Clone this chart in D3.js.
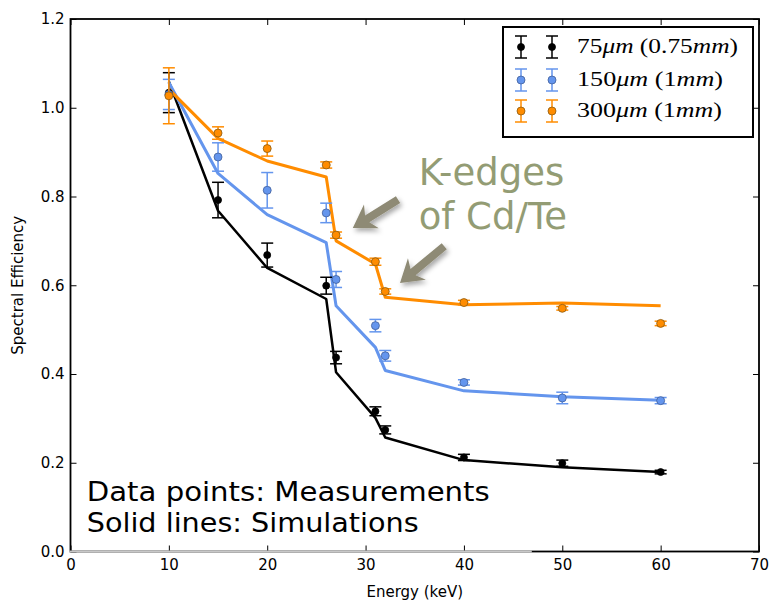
<!DOCTYPE html>
<html>
<head>
<meta charset="utf-8">
<script src="https://cdn.jsdelivr.net/npm/d3@7"></script>
<style>
  body { margin: 0; background: #fff; }
  text { font-family: "DejaVu Sans", sans-serif; }
</style>
</head>
<body>
<div id="viz"></div>
<script>
// energies in keV
var energies = [10, 15, 20, 26, 27, 31, 32, 40, 50, 60];

// measured spectral efficiency (points) and error bars
var meas75  = [1.034, 0.792, 0.668, 0.599, 0.437, 0.316, 0.274, 0.212, 0.199, 0.179];
var err75   = [0.045, 0.040, 0.027, 0.019, 0.014, 0.010, 0.009, 0.007, 0.007, 0.004];
var meas150 = [1.030, 0.889, 0.814, 0.763, 0.613, 0.509, 0.441, 0.381, 0.346, 0.340];
var err150  = [0.034, 0.032, 0.040, 0.022, 0.018, 0.014, 0.012, 0.006, 0.013, 0.007];
var meas300 = [1.027, 0.943, 0.908, 0.871, 0.713, 0.653, 0.586, 0.561, 0.548, 0.514];
var err300  = [0.063, 0.014, 0.017, 0.007, 0.007, 0.008, 0.006, 0.005, 0.004, 0.005];

// simulations (solid lines)
var sim75  = [1.059, 0.768, 0.639, 0.569, 0.404, 0.301, 0.257, 0.206, 0.190, 0.179];
var sim150 = [1.057, 0.852, 0.759, 0.696, 0.554, 0.460, 0.408, 0.362, 0.349, 0.341];
var sim300 = [1.042, 0.931, 0.880, 0.844, 0.700, 0.648, 0.573, 0.556, 0.560, 0.554];

var xTicks = [0, 10, 20, 30, 40, 50, 60, 70];
var yTicks = [0.0, 0.2, 0.4, 0.6, 0.8, 1.0, 1.2];

var legendLabels = [
  [["75", ""], ["μm", "i"], [" (0.75", ""], ["mm", "i"], [")", ""]],
  [["150", ""], ["μm", "i"], [" (1", ""], ["mm", "i"], [")", ""]],
  [["300", ""], ["μm", "i"], [" (1", ""], ["mm", "i"], [")", ""]]
];
var legendWidths = [161, 146, 145];

var width = 773, height = 603;
var margin = {left: 70.5, right: 14, top: 19, bottom: 51.5};

var svg = d3.select("#viz").append("svg")
  .attr("width", width)
  .attr("height", height);

var x = d3.scaleLinear().domain([0, 70]).range([margin.left, width - margin.right]);
var y = d3.scaleLinear().domain([0, 1.2]).range([height - margin.bottom, margin.top]);

var series = [
  {meas: meas75, err: err75, sim: sim75, color: "#000000", edge: "#000000", r: 3.5, lw: 2.5},
  {meas: meas150, err: err150, sim: sim150, color: "#6495ed", edge: "#41609a", r: 4, lw: 3},
  {meas: meas300, err: err300, sim: sim300, color: "#ff8c00", edge: "#8a5a10", r: 4, lw: 3}
];

// axes, ticks pointing inwards on all four sides
svg.append("g")
  .attr("transform", "translate(0," + y(0) + ")")
  .call(d3.axisBottom(x).tickValues(xTicks).tickFormat(d3.format("d")).tickSize(-6).tickPadding(8))
  .call(g => g.select(".domain").remove())
  .call(g => g.selectAll("text").style("font-size", "15px").style("fill", "#000"));

svg.append("g")
  .attr("transform", "translate(0," + y(1.2) + ")")
  .call(d3.axisTop(x).tickValues(xTicks).tickFormat("").tickSize(-6))
  .call(g => g.select(".domain").remove());

svg.append("g")
  .attr("transform", "translate(" + x(0) + ",0)")
  .call(d3.axisLeft(y).tickValues(yTicks).tickFormat(d3.format(".1f")).tickSize(-6).tickPadding(6))
  .call(g => g.select(".domain").remove())
  .call(g => g.selectAll("text").style("font-size", "15px").style("fill", "#000"));

svg.append("g")
  .attr("transform", "translate(" + x(70) + ",0)")
  .call(d3.axisRight(y).tickValues(yTicks).tickFormat("").tickSize(-6))
  .call(g => g.select(".domain").remove());

svg.selectAll(".tick line").attr("stroke", "#000").attr("stroke-width", 1);

// simulation lines
var line = d3.line().x((d, i) => x(energies[i])).y(d => y(d));
series.forEach(s => {
  svg.append("path")
    .attr("d", line(s.sim))
    .attr("fill", "none")
    .attr("stroke", s.color)
    .attr("stroke-width", s.lw)
    .attr("stroke-linejoin", "round");
});

// measurement points with error bars
function errorBar(g, cx, cy, lo, hi, s) {
  g.append("line").attr("x1", cx).attr("x2", cx).attr("y1", lo).attr("y2", hi)
    .attr("stroke", s.color).attr("stroke-width", 1.5);
  [lo, hi].forEach(v => {
    g.append("line").attr("x1", cx - 6).attr("x2", cx + 6).attr("y1", v).attr("y2", v)
      .attr("stroke", s.color).attr("stroke-width", 1.5);
  });
  g.append("circle").attr("cx", cx).attr("cy", cy).attr("r", s.r)
    .attr("fill", s.color).attr("stroke", s.edge).attr("stroke-width", 0.8);
}

series.forEach(s => {
  var g = svg.append("g");
  s.meas.forEach((v, i) => {
    errorBar(g, x(energies[i]), y(v), y(v - s.err[i]), y(v + s.err[i]), s);
  });
});

// frame
svg.append("rect")
  .attr("x", x(0)).attr("y", y(1.2))
  .attr("width", x(70) - x(0)).attr("height", y(0) - y(1.2))
  .attr("fill", "none").attr("stroke", "#000").attr("stroke-width", 1.8);
// faded part of the bottom spine
svg.append("line")
  .attr("x1", x(0) - 1).attr("x2", x(46.9))
  .attr("y1", y(0)).attr("y2", y(0))
  .attr("stroke", "#c8c8c8").attr("stroke-width", 2);

// axis titles
svg.append("text")
  .attr("x", (x(0) + x(70)) / 2).attr("y", 597)
  .attr("text-anchor", "middle").style("font-size", "15px")
  .text("Energy (keV)");
svg.append("text")
  .attr("transform", "translate(23," + (y(0) + y(1.2)) / 2 + ") rotate(-90)")
  .attr("text-anchor", "middle").style("font-size", "15px")
  .text("Spectral Efficiency");

// legend
var lg = svg.append("g");
lg.append("rect")
  .attr("x", 503).attr("y", 27).attr("width", 250).attr("height", 110)
  .attr("fill", "#fff").attr("stroke", "#000").attr("stroke-width", 2);
var rowY = [47, 80, 111];
series.forEach((s, k) => {
  [521, 552].forEach(cx => {
    errorBar(lg, cx, rowY[k], rowY[k] + 11, rowY[k] - 11, s);
  });
  var t = lg.append("text")
    .attr("x", 577).attr("y", rowY[k] + 6)
    .attr("textLength", legendWidths[k])
    .attr("lengthAdjust", "spacingAndGlyphs")
    .style("font-family", "'Liberation Serif', serif")
    .style("font-size", "20px");
  legendLabels[k].forEach(p => {
    t.append("tspan").style("font-style", p[1] === "i" ? "italic" : "normal").text(p[0]);
  });
});

// K-edge annotation
var defs = svg.append("defs");
var f = defs.append("filter").attr("id", "shadow").attr("x", "-50%").attr("y", "-50%").attr("width", "200%").attr("height", "200%");
f.append("feDropShadow").attr("dx", 2).attr("dy", 3).attr("stdDeviation", 2.5)
  .attr("flood-color", "#000").attr("flood-opacity", 0.35);

function arrow(x0, y0, x1, y1) {
  var dx = x1 - x0, dy = y1 - y0, len = Math.hypot(dx, dy);
  var ux = dx / len, uy = dy / len, nx = -uy, ny = ux;
  var hl = 22, hw = 14, sw = 4, notch = 5;
  var bx = x1 - ux * hl, by = y1 - uy * hl;
  var pts = [
    [x0 + nx * sw, y0 + ny * sw],
    [bx + ux * notch + nx * sw, by + uy * notch + ny * sw],
    [bx + nx * hw, by + ny * hw],
    [x1, y1],
    [bx - nx * hw, by - ny * hw],
    [bx + ux * notch - nx * sw, by + uy * notch - ny * sw],
    [x0 - nx * sw, y0 - ny * sw]
  ];
  svg.append("path")
    .attr("d", "M" + pts.map(p => p.join(",")).join("L") + "Z")
    .attr("fill", "#8e8a74")
    .attr("filter", "url(#shadow)");
}
arrow(x(33.3), y(0.793), x(28.7), y(0.729));
arrow(x(38.0), y(0.688), x(33.5), y(0.605));

svg.append("text")
  .attr("x", x(35.4)).attr("y", y(0.827))
  .style("font-size", "37px").style("fill", "#939c74")
  .text("K-edges");
svg.append("text")
  .attr("x", x(35.4)).attr("y", y(0.726))
  .style("font-size", "37px").style("fill", "#939c74")
  .text("of Cd/Te");

// bottom-left note
svg.append("text")
  .attr("x", x(1.65)).attr("y", y(0.113))
  .attr("textLength", 403).attr("lengthAdjust", "spacingAndGlyphs")
  .style("font-size", "26px").style("fill", "#000")
  .text("Data points: Measurements");
svg.append("text")
  .attr("x", x(1.65)).attr("y", y(0.045))
  .attr("textLength", 332).attr("lengthAdjust", "spacingAndGlyphs")
  .style("font-size", "26px").style("fill", "#000")
  .text("Solid lines: Simulations");
</script>
</body>
</html>
